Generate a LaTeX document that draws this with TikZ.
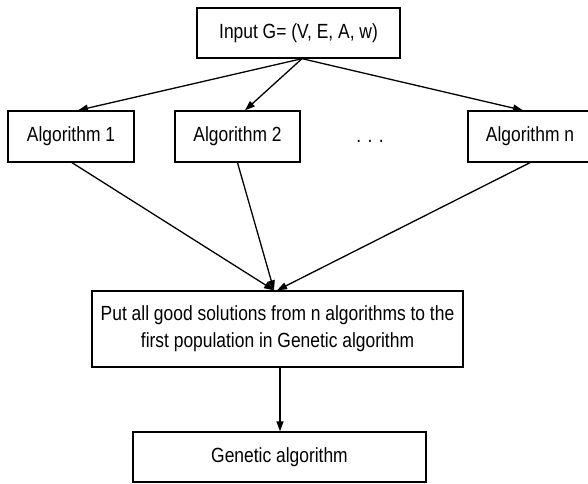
\documentclass[tikz,border=0pt]{standalone}
\usepackage{fontspec}
\setmainfont{Liberation Sans}[FakeStretch=0.85]
\usetikzlibrary{arrows.meta}
\begin{document}
\begin{tikzpicture}[x=1pt,y=-1pt,
  box/.style={draw=black,line width=1.3pt,fill=white,inner sep=0pt,
    font=\fontsize{20.5}{27}\selectfont,align=center},
  arr/.style={line width=1.3pt,-{Triangle[length=10pt,width=7pt]}}]
\useasboundingbox (0,0) rectangle (588,483);
% input graph
\node[box,minimum width=203pt,minimum height=50pt] (in) at (298.5,33) {Input G= (V, E, A, w)};
% heuristic algorithms
\node[box,minimum width=126pt,minimum height=51pt] (a1) at (71,136.5) {Algorithm 1};
\node[box,minimum width=125pt,minimum height=51pt] (a2) at (237.5,136.5) {Algorithm 2};
\node[box,minimum width=124pt,minimum height=51pt] (an) at (530,136.5) {Algorithm n};
\node[font=\fontsize{20.5}{27}\selectfont,inner sep=0pt,anchor=base] (dots) at (370,142) {. . .};
% collecting the solutions
\node[box,minimum width=371pt,minimum height=76pt] (mid) at (277.5,329)
  {Put all good solutions from n algorithms to the\\first population in Genetic algorithm};
\node[box,minimum width=293pt,minimum height=50pt] (ga) at (279.5,457) {Genetic algorithm};
% connectors
\draw[arr] ([xshift=3.5pt]in.south) -- ([xshift=7pt]a1.north);
\draw[arr] ([xshift=3.5pt]in.south) -- ([xshift=7.5pt]a2.north);
\draw[arr] ([xshift=3.5pt]in.south) -- ([xshift=-7pt]an.north);
\draw[arr] ([xshift=1pt]a1.south) -- ([xshift=-3.5pt]mid.north);
\draw[arr] (a2.south) -- ([xshift=-3.5pt]mid.north);
\draw[arr] (an.south) -- ([xshift=-0.5pt]mid.north);
\draw[arr] ([xshift=2.5pt]mid.south) -- ([xshift=0.5pt]ga.north);
\end{tikzpicture}
\end{document}
